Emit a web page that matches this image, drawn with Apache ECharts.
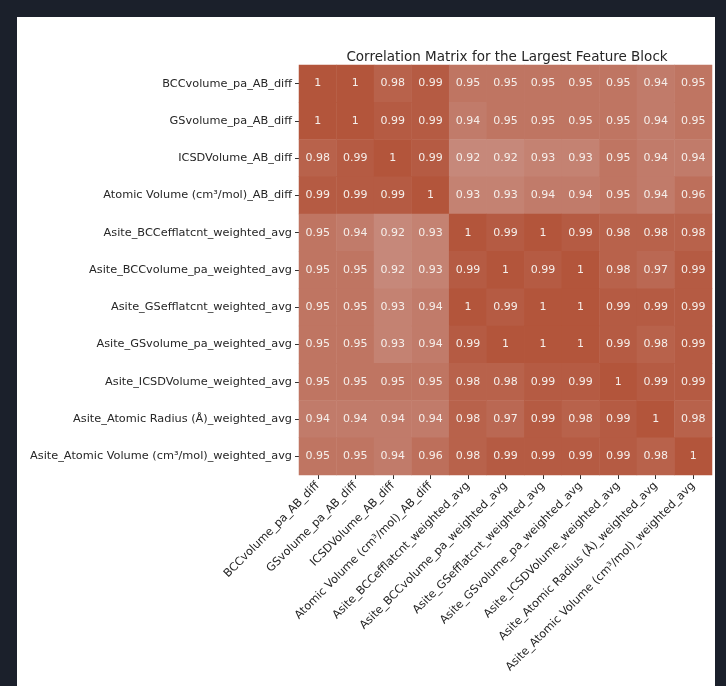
<!DOCTYPE html>
<html>
<head>
<meta charset="utf-8">
<script src="https://cdn.jsdelivr.net/npm/echarts@6/dist/echarts.min.js"></script>
<style>
  html, body { margin: 0; padding: 0; background: #1b202b; }
  #wrap { position: absolute; left: 0; top: 0; width: 726px; height: 686px; background: #1b202b; }
  #chart { position: absolute; left: 17px; top: 17px; width: 698px; height: 669px; background: #ffffff; }
</style>
</head>
<body>
<div id="wrap"><div id="chart"></div></div>
<script>
// feature names (same order on both axes)
var features = [
  'BCCvolume_pa_AB_diff',
  'GSvolume_pa_AB_diff',
  'ICSDVolume_AB_diff',
  'Atomic Volume (cm³/mol)_AB_diff',
  'Asite_BCCefflatcnt_weighted_avg',
  'Asite_BCCvolume_pa_weighted_avg',
  'Asite_GSefflatcnt_weighted_avg',
  'Asite_GSvolume_pa_weighted_avg',
  'Asite_ICSDVolume_weighted_avg',
  'Asite_Atomic Radius (Å)_weighted_avg',
  'Asite_Atomic Volume (cm³/mol)_weighted_avg'
];

// correlation rows, top to bottom
var row0  = [1, 1, 0.98, 0.99, 0.95, 0.95, 0.95, 0.95, 0.95, 0.94, 0.95];
var row1  = [1, 1, 0.99, 0.99, 0.94, 0.95, 0.95, 0.95, 0.95, 0.94, 0.95];
var row2  = [0.98, 0.99, 1, 0.99, 0.92, 0.92, 0.93, 0.93, 0.95, 0.94, 0.94];
var row3  = [0.99, 0.99, 0.99, 1, 0.93, 0.93, 0.94, 0.94, 0.95, 0.94, 0.96];
var row4  = [0.95, 0.94, 0.92, 0.93, 1, 0.99, 1, 0.99, 0.98, 0.98, 0.98];
var row5  = [0.95, 0.95, 0.92, 0.93, 0.99, 1, 0.99, 1, 0.98, 0.97, 0.99];
var row6  = [0.95, 0.95, 0.93, 0.94, 1, 0.99, 1, 1, 0.99, 0.99, 0.99];
var row7  = [0.95, 0.95, 0.93, 0.94, 0.99, 1, 1, 1, 0.99, 0.98, 0.99];
var row8  = [0.95, 0.95, 0.95, 0.95, 0.98, 0.98, 0.99, 0.99, 1, 0.99, 0.99];
var row9  = [0.94, 0.94, 0.94, 0.94, 0.98, 0.97, 0.99, 0.98, 0.99, 1, 0.98];
var row10 = [0.95, 0.95, 0.94, 0.96, 0.98, 0.99, 0.99, 0.99, 0.99, 0.98, 1];
var rows = [row0, row1, row2, row3, row4, row5, row6, row7, row8, row9, row10];

var cells = [];
rows.forEach(function (r, i) {
  r.forEach(function (v, j) {
    cells.push([j, i, v]);
  });
});

var font = 'DejaVu Sans';
var chart = echarts.init(document.getElementById('chart'), null, { renderer: 'canvas' });

chart.setOption({
  animation: false,
  backgroundColor: '#ffffff',
  title: {
    text: 'Correlation Matrix for the Largest Feature Block',
    left: 485,
    top: 28,
    textAlign: 'center',
    textStyle: { fontFamily: font, fontSize: 13.5, fontWeight: 'normal', color: '#262626' }
  },
  grid: { left: 282, top: 48, width: 413, height: 410 },
  xAxis: {
    type: 'category',
    data: features,
    axisLine: { show: false },
    axisTick: { show: true, alignWithLabel: true, length: 4, lineStyle: { color: '#333' } },
    axisLabel: {
      interval: 0, rotate: 45, margin: 9,
      fontFamily: font, fontSize: 11.3, color: '#262626'
    },
    splitLine: { show: false }
  },
  yAxis: {
    type: 'category',
    data: features,
    inverse: true,
    axisLine: { show: false },
    axisTick: { show: true, alignWithLabel: true, length: 4, lineStyle: { color: '#333' } },
    axisLabel: {
      interval: 0, margin: 7,
      fontFamily: font, fontSize: 11.3, color: '#262626'
    },
    splitLine: { show: false }
  },
  visualMap: {
    show: false,
    min: 0.92,
    max: 1,
    dimension: 2,
    inRange: { color: ['#c6887a', '#b3553b'] }
  },
  series: [{
    type: 'heatmap',
    data: cells,
    label: {
      show: true,
      fontFamily: font,
      fontSize: 11,
      color: '#f6efeb',
      formatter: function (p) {
        var v = p.value[2];
        return v === 1 ? '1' : v.toFixed(2);
      }
    },
    itemStyle: { borderWidth: 0 }
  }]
});
</script>
</body>
</html>
